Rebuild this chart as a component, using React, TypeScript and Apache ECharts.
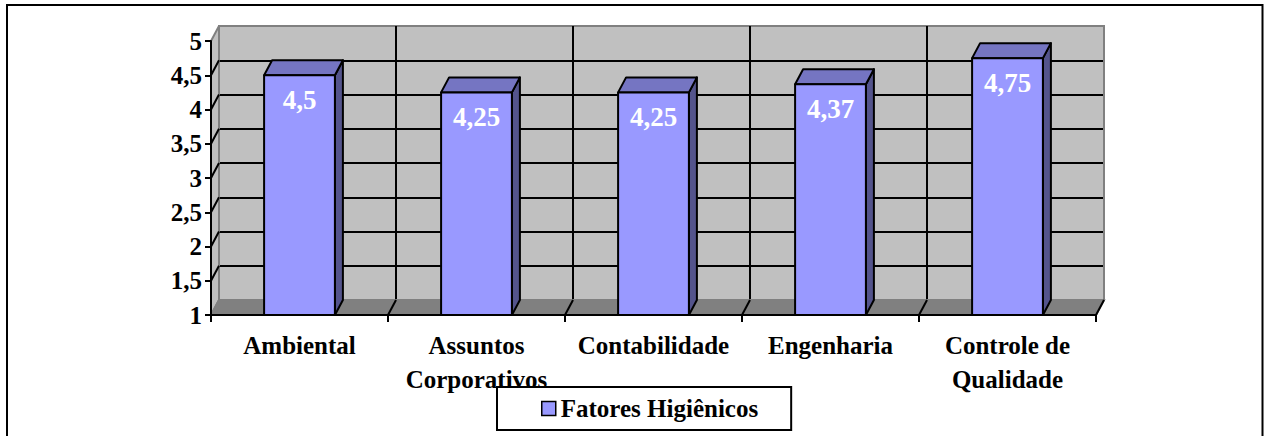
import React, { useEffect, useRef } from "react";
import * as echarts from "echarts";

const CATEGORIES = ["Ambiental", "Assuntos\nCorporativos", "Contabilidade", "Engenharia", "Controle de\nQualidade"];
const SERIES_NAME = "Fatores Higiênicos";
const VALUES = [4.5, 4.25, 4.25, 4.37, 4.75];
const VALUE_LABELS = ["4,5", "4,25", "4,25", "4,37", "4,75"];
const Y_MIN = 1;
const Y_MAX = 5;
const Y_STEP = 0.5;
const Y_TICK_VALUES = [1.5, 2, 2.5, 3, 3.5, 4, 4.5];

const DX = 8;
const DY = -15;
const FONT = "'Liberation Serif', 'Times New Roman', serif";
const FRONT = "#9999FF";
const TOP = "#7575C2";
const SIDE = "#54548C";
const LW = 2;

export default function App() {
  const ref = useRef<HTMLDivElement>(null);
  useEffect(() => {
    const chart = echarts.init(ref.current!, undefined, { renderer: "svg" });
    const gl = 211, gt = 41, gw = 885, gh = 274;
    const option: any = {
      animation: false,
      backgroundColor: "#fff",
      graphic: [
        {
          type: "rect",
          shape: { x: 7, y: 5, width: 1255.5, height: 445 },
          style: { fill: "none", stroke: "#000", lineWidth: 2 },
          z: 10,
        },
      ],
      legend: {
        left: 497,
        top: 387,
        padding: [8, 33, 8, 44],
        borderColor: "#000",
        borderWidth: 2,
        itemWidth: 14,
        itemHeight: 14,
        data: [
          {
            name: SERIES_NAME,
            icon: "rect",
            itemStyle: { color: FRONT, borderColor: "#000", borderWidth: 1.5 },
          },
        ],
        textStyle: { fontFamily: FONT, fontWeight: "bold", fontSize: 25, color: "#000", lineHeight: 27 },
      },
      grid: [
        { left: gl, top: gt, width: gw, height: gh },
        {
          left: gl + DX,
          top: gt + DY,
          width: gw,
          height: gh,
          show: true,
          backgroundColor: "#C0C0C0",
          borderColor: "#808080",
          borderWidth: LW,
          z: 0,
        },
      ],
      xAxis: [
        {
          type: "category",
          gridIndex: 0,
          data: CATEGORIES,
          z: 3,
          axisLine: { show: true, lineStyle: { color: "#000", width: LW } },
          axisTick: { show: true, length: 7, lineStyle: { color: "#000", width: LW } },
          axisLabel: {
            interval: 0,
            margin: 13,
            fontFamily: FONT,
            fontWeight: "bold",
            fontSize: 25,
            lineHeight: 34,
            color: "#000",
          },
          splitLine: { show: false },
        },
        {
          type: "category",
          gridIndex: 1,
          data: CATEGORIES,
          z: 1,
          axisLine: { show: false },
          axisTick: { show: false },
          axisLabel: { show: false },
          splitLine: {
            show: true,
            lineStyle: { color: ["#808080", "#000", "#000", "#000", "#000"], width: LW },
          },
        },
      ],
      yAxis: [
        {
          type: "value",
          gridIndex: 0,
          min: Y_MIN,
          max: Y_MAX,
          interval: Y_STEP,
          z: 3,
          axisLine: { show: true, lineStyle: { color: "#000", width: LW } },
          axisTick: { show: true, length: 6, lineStyle: { color: "#000", width: LW } },
          axisLabel: {
            margin: 9,
            fontFamily: FONT,
            fontWeight: "bold",
            fontSize: 25,
            color: "#000",
            formatter: (v: number) => String(v).replace(".", ","),
          },
          splitLine: { show: false },
        },
        {
          type: "value",
          gridIndex: 1,
          min: Y_MIN,
          max: Y_MAX,
          interval: Y_STEP,
          z: 1,
          axisLine: { show: false },
          axisTick: { show: false },
          axisLabel: { show: false },
          splitLine: {
            show: true,
            lineStyle: {
              color: ["#808080", "#000", "#000", "#000", "#000", "#000", "#000", "#000"],
              width: LW,
            },
          },
        },
      ],
      series: [
        {
          type: "custom",
          name: "frame",
          xAxisIndex: 0,
          yAxisIndex: 0,
          z: 1.5,
          clip: false,
          silent: true,
          data: [[0, Y_MIN]],
          renderItem: (_p: any, api: any) => {
            const band = api.size([1, 0])[0];
            const c0 = api.coord([0, Y_MIN]);
            const leftX = c0[0] - band / 2;
            const rightX = leftX + band * CATEGORIES.length;
            const yBot = c0[1];
            const yTop = api.coord([0, Y_MAX])[1];
            const children: any[] = [];
            children.push({
              type: "polygon",
              shape: { points: [[leftX, yTop], [leftX + DX, yTop + DY], [leftX + DX, yBot + DY], [leftX, yBot]] },
              style: { fill: "#C0C0C0", stroke: "#808080", lineWidth: LW },
            });
            Y_TICK_VALUES.forEach((v) => {
              const y = api.coord([0, v])[1];
              children.push({
                type: "line",
                shape: { x1: leftX, y1: y, x2: leftX + DX, y2: y + DY },
                style: { stroke: "#000", lineWidth: LW },
              });
            });
            children.push({
              type: "polygon",
              shape: { points: [[leftX, yBot], [leftX + DX, yBot + DY], [rightX + DX, yBot + DY], [rightX, yBot]] },
              style: { fill: "#808080", stroke: "#808080", lineWidth: LW },
            });
            for (let k = 1; k <= CATEGORIES.length; k++) {
              const x = leftX + band * k;
              children.push({
                type: "line",
                shape: { x1: x, y1: yBot, x2: x + DX, y2: yBot + DY },
                style: { stroke: "#000", lineWidth: LW },
              });
            }
            return { type: "group", children };
          },
        },
        {
          type: "custom",
          name: SERIES_NAME,
          xAxisIndex: 0,
          yAxisIndex: 0,
          z: 2,
          clip: false,
          itemStyle: { color: FRONT },
          encode: { x: 0, y: 1 },
          data: VALUES.map((v, i) => [i, v]),
          renderItem: (params: any, api: any) => {
            const i = api.value(0);
            const v = api.value(1);
            const top = api.coord([i, v]);
            const base = api.coord([i, Y_MIN]);
            const band = api.size([1, 0])[0];
            const w = band * 0.4;
            const xl = top[0] - w / 2;
            const xr = top[0] + w / 2;
            const yt = top[1];
            const yb = base[1];
            const stroke = { stroke: "#000", lineWidth: LW, lineJoin: "round" };
            return {
              type: "group",
              children: [
                {
                  type: "polygon",
                  shape: { points: [[xr, yt], [xr + DX, yt + DY], [xr + DX, yb + DY], [xr, yb]] },
                  style: { fill: SIDE, ...stroke },
                },
                {
                  type: "polygon",
                  shape: { points: [[xl, yt], [xl + DX, yt + DY], [xr + DX, yt + DY], [xr, yt]] },
                  style: { fill: TOP, ...stroke },
                },
                {
                  type: "rect",
                  shape: { x: xl, y: yt, width: w, height: yb - yt },
                  style: { fill: FRONT, ...stroke },
                },
                {
                  type: "text",
                  x: top[0],
                  y: yt + 25,
                  style: {
                    text: VALUE_LABELS[params.dataIndex],
                    fill: "#fff",
                    fontFamily: FONT,
                    fontWeight: "bold",
                    fontSize: 27,
                    align: "center",
                    verticalAlign: "middle",
                  },
                },
              ],
            };
          },
        },
      ],
    };
    chart.setOption(option);
    return () => chart.dispose();
  }, []);
  return (
    <div
      ref={ref}
      style={{ position: "fixed", left: 0, top: 0, width: 1268, height: 436, background: "#fff" }}
    />
  );
}
